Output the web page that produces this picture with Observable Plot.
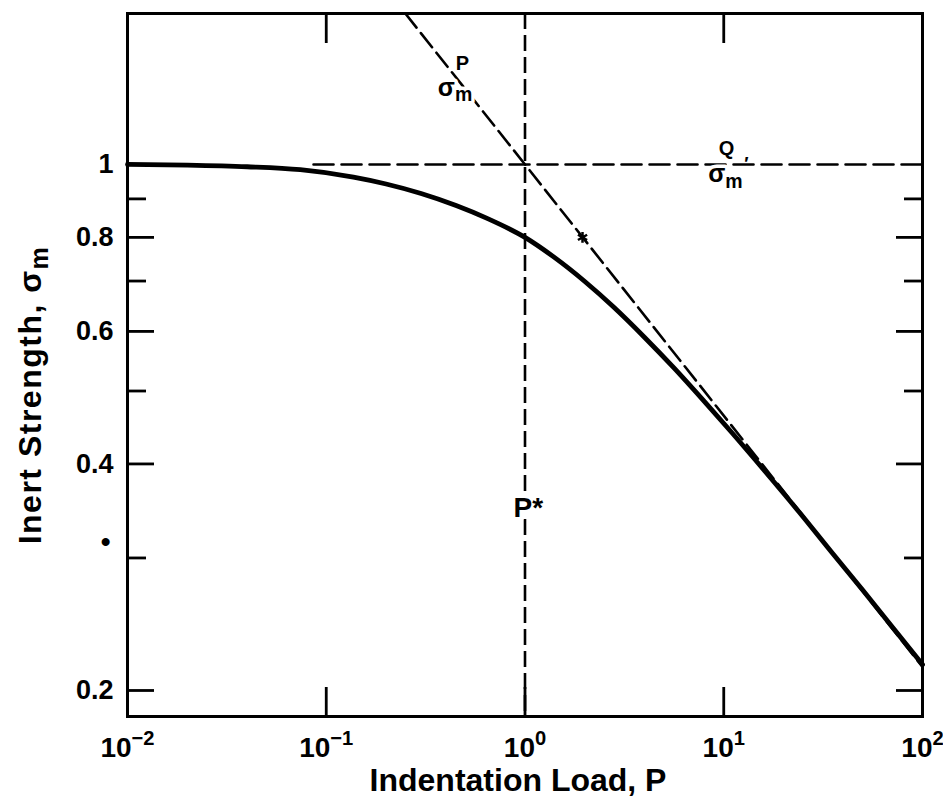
<!DOCTYPE html>
<html>
<head>
<meta charset="utf-8">
<script src="https://cdn.jsdelivr.net/npm/d3@7"></script>
<script src="https://cdn.jsdelivr.net/npm/@observablehq/plot@0.6"></script>
<style>
  html, body { margin: 0; padding: 0; background: #fff; }
  #chart { width: 943px; height: 808px; }
</style>
</head>
<body>
<div id="chart"></div>
<script>
// ---- data ----
// solid curve: inert strength vs indentation load
const loadP    = [0.01, 0.02, 0.04, 0.074, 0.137, 0.2, 0.3, 0.45, 0.645, 1, 1.4, 2, 2.8, 4, 5.6, 8, 11, 16, 24, 35, 50, 70, 100];
const strength = [1.0, 0.998, 0.993, 0.984, 0.962, 0.942, 0.915, 0.882, 0.848, 0.800, 0.753, 0.699, 0.646, 0.589, 0.537, 0.484, 0.440, 0.392, 0.345, 0.305, 0.272, 0.2435, 0.2165];
// dashed asymptote sigma_m^P
const asymP = [0.25, 1, 100];
const asymS = [1.587, 1, 0.215];
// dashed plateau sigma_m^Q
const plateauP = [0.0863, 100];
const plateauS = [1, 1];
// P* vertical
const pStar = [1];
// marker on the asymptote
const markP = [1.947];
const markS = [0.80];
// ticks
const yTickMajor = [0.2, 0.4, 0.6, 0.8];
const yTickMinor = [0.3, 0.5, 0.7, 0.9];
const yLabelTicks = [0.2, 0.4, 0.6, 0.8, 1];
const yLabelTexts = ["0.2", "0.4", "0.6", "0.8", "1"];
const yDotTick = [0.3];
const xTickTop = [0.1, 10];
const xTickBottom = [0.1, 1, 10];
const xLabelTicks = [0.01, 0.1, 1, 10, 100];
const xLabelTexts = ["10^−2", "10^−1", "10^0", "10^1", "10^2"];
// annotations
const annMainP = [0.4444, 10.2];
const annMainS = [1.265, 0.972];
const annSupP = [0.4848, 10.32];
const annSupS = [1.36, 1.05];
const annSupT = ["P", "Q"];
const primeP = [13.0];
const primeS = [1.0];
const pStarLabelP = [0.875];
const pStarLabelS = [0.35];
const xTitle = "Indentation Load, P";
const yTitle = "Inert Strength, σ_m";

// ---- build tables ----
const curveData = loadP.map((p, i) => ({P: p, s: strength[i]}));
const asymData = asymP.map((p, i) => ({P: p, s: asymS[i]}));
const plateauData = plateauP.map((p, i) => ({P: p, s: plateauS[i]}));
const markData = markP.map((p, i) => ({P: p, s: markS[i]}));
const annMain = annMainP.map((p, i) => ({P: p, s: annMainS[i], t: "σ_m"}));
const annSup = annSupP.map((p, i) => ({P: p, s: annSupS[i], t: annSupT[i]}));
const primeData = primeP.map((p, i) => ({P: p, s: primeS[i], t: "′"}));
const pStarLabel = pStarLabelP.map((p, i) => ({P: p, s: pStarLabelS[i], t: "P*"}));

const FONT = '"Liberation Sans", Arial, sans-serif';
const tickStyle = {strokeWidth: 2.8, fill: "none", label: null};

const svg = Plot.plot({
  width: 943,
  height: 808,
  marginLeft: 127,
  marginRight: 21,
  marginTop: 13,
  marginBottom: 92,
  x: {type: "log", domain: [0.01, 100]},
  y: {type: "log", domain: [0.1847, 1.587]},
  style: {background: "white", color: "black", fontFamily: FONT, fontWeight: "bold"},
  marks: [
    Plot.ruleX(pStar, {x: d => d, stroke: "black", strokeWidth: 2.6, strokeDasharray: "16,6"}),
    Plot.line(plateauData, {x: "P", y: "s", stroke: "black", strokeWidth: 2.6, strokeDasharray: "20,8"}),
    Plot.line(asymData, {x: "P", y: "s", stroke: "black", strokeWidth: 2.6, strokeDasharray: "18,7", clip: true}),
    Plot.line(curveData, {x: "P", y: "s", stroke: "black", strokeWidth: 4.8, curve: "monotone-x"}),
    Plot.dot(markData, {x: "P", y: "s", symbol: "asterisk", r: 5, stroke: "black", strokeWidth: 2.5}),
    Plot.text(annMain, {x: "P", y: "s", text: "t", fontSize: 25, fill: "black", stroke: "white", strokeWidth: 7}),
    Plot.text(annSup, {x: "P", y: "s", text: "t", fontSize: 20, fill: "black", stroke: "white", strokeWidth: 6}),
    Plot.text(primeData, {x: "P", y: "s", text: "t", fontSize: 18, fill: "black"}),
    Plot.text(pStarLabel, {x: "P", y: "s", text: "t", textAnchor: "start", fontSize: 28, fill: "black", stroke: "white", strokeWidth: 9}),
    Plot.frame({stroke: "black", strokeWidth: 3}),
    // inward ticks
    Plot.axisY(yTickMajor, {anchor: "left", tickSize: -27, ...tickStyle}),
    Plot.axisY(yTickMinor, {anchor: "left", tickSize: -19, ...tickStyle}),
    Plot.axisY(yTickMajor, {anchor: "right", tickSize: -27, ...tickStyle}),
    Plot.axisY(yTickMinor, {anchor: "right", tickSize: -19, ...tickStyle}),
    Plot.axisX(xTickTop, {anchor: "top", tickSize: -29, ...tickStyle}),
    Plot.axisX(xTickBottom, {anchor: "bottom", tickSize: -29, ...tickStyle}),
    // tick labels
    Plot.axisY(yLabelTicks, {anchor: "left", tickSize: 0, tickPadding: 14, fontSize: 27, label: null,
      tickFormat: d => yLabelTexts[yLabelTicks.indexOf(d)]}),
    Plot.axisY(yDotTick, {anchor: "left", tickSize: 0, tickPadding: 17, dy: -16, fontSize: 28, label: null,
      tickFormat: () => "•"}),
    Plot.axisX(xLabelTicks, {anchor: "bottom", tickSize: 0, tickPadding: 21, fontSize: 28, label: null,
      tickFormat: d => xLabelTexts[xLabelTicks.indexOf(d)]}),
    // axis titles
    Plot.text([xTitle], {frameAnchor: "bottom", lineAnchor: "middle", text: d => d, dx: -7, dy: 64, fontSize: 32, fill: "black"}),
    Plot.text([yTitle], {frameAnchor: "left", textAnchor: "middle", lineAnchor: "middle", text: d => d, rotate: -90, dx: -97, dy: 30, fontSize: 32, fill: "black"})
  ]
});

// ---- rich text: superscripts / subscripts ----
const NS = "http://www.w3.org/2000/svg";
function tspan(txt, dy, size) {
  const ts = document.createElementNS(NS, "tspan");
  ts.textContent = txt;
  if (dy) ts.setAttribute("dy", dy);
  if (size) ts.setAttribute("font-size", size);
  return ts;
}
svg.querySelectorAll("text").forEach(t => {
  const s = t.textContent;
  if (s === yTitle) t.setAttribute("letter-spacing", "1.5");
  let m = s.match(/^10\^(.+)$/);
  if (m) {
    t.textContent = "";
    t.append(document.createTextNode("10"));
    t.append(tspan(m[1], "-0.62em", "0.72em"));
    return;
  }
  m = s.match(/^(.*)_(.)$/);
  if (m) {
    t.textContent = "";
    t.append(document.createTextNode(m[1]));
    t.append(tspan(m[2], "0.3em", "0.78em"));
  }
});

document.getElementById("chart").append(svg);
</script>
</body>
</html>
